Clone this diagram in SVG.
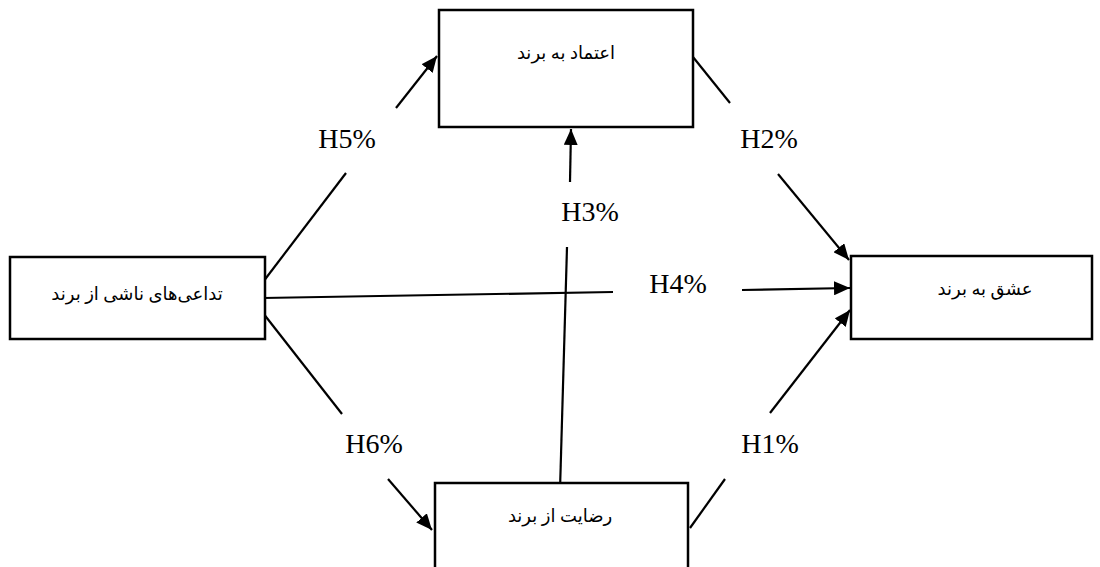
<svg xmlns="http://www.w3.org/2000/svg" width="1100" height="567" viewBox="0 0 1100 567">
<style>
.box{fill:#fff;stroke:#000;stroke-width:2.5}
.fa{font-family:"Liberation Serif","DejaVu Sans",serif;font-size:18px;fill:#000;text-anchor:middle}
.lbl{font-family:"Liberation Serif",serif;font-size:28px;fill:#000;text-anchor:middle}
.ln{stroke:#000;stroke-width:2.2;fill:none}
</style>
<defs>
<marker id="ah" viewBox="0 0 16 14" refX="16" refY="7" markerWidth="16" markerHeight="14" markerUnits="userSpaceOnUse" orient="auto">
<path d="M0,0 L16,7 L0,14 z" fill="#000"/>
</marker>
</defs>
<rect width="1100" height="567" fill="#fff"/>
<g id="connectors">
<line class="ln" x1="263" y1="282" x2="346" y2="173"/>
<line class="ln" x1="396" y1="108" x2="437" y2="56" marker-end="url(#ah)"/>
<line class="ln" x1="693" y1="57" x2="730" y2="103"/>
<line class="ln" x1="778" y1="174" x2="849" y2="260" marker-end="url(#ah)"/>
<line class="ln" x1="263" y1="298" x2="613" y2="292"/>
<line class="ln" x1="742" y1="290" x2="850" y2="288" marker-end="url(#ah)"/>
<line class="ln" x1="690" y1="528" x2="725" y2="479"/>
<line class="ln" x1="770" y1="413" x2="850" y2="310" marker-end="url(#ah)"/>
<line class="ln" x1="263" y1="313" x2="342" y2="414"/>
<line class="ln" x1="388" y1="479" x2="432" y2="530" marker-end="url(#ah)"/>
<line class="ln" x1="560" y1="490" x2="567" y2="247"/>
<line class="ln" x1="570" y1="182" x2="571" y2="129" marker-end="url(#ah)"/>
</g>
<g id="labels">
<text class="lbl" x="347" y="148">H5%</text>
<text class="lbl" x="769" y="148">H2%</text>
<text class="lbl" x="590" y="221">H3%</text>
<text class="lbl" x="678" y="293">H4%</text>
<text class="lbl" x="770" y="453">H1%</text>
<text class="lbl" x="374" y="453">H6%</text>
</g>
<g id="node-trust">
<rect class="box" x="439" y="10" width="254" height="117"/>
<text class="fa" x="566" y="59">اعتماد به برند</text>
</g>
<g id="node-assoc">
<rect class="box" x="10" y="257" width="255" height="82"/>
<text class="fa" x="137" y="300">تداعی‌های ناشی از برند</text>
</g>
<g id="node-love">
<rect class="box" x="851" y="256" width="241" height="83"/>
<text class="fa" x="985" y="295">عشق به برند</text>
</g>
<g id="node-satisf">
<rect class="box" x="435" y="483" width="253" height="95"/>
<text class="fa" x="560" y="522">رضایت از برند</text>
</g>
</svg>
